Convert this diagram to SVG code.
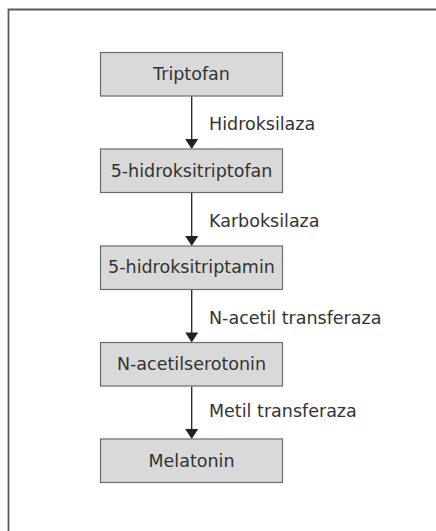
<svg xmlns="http://www.w3.org/2000/svg" width="436" height="531" viewBox="0 0 436 531">
<style>
.box{fill:#d9d9d9;stroke:#6b6b6b;stroke-width:1.2}
.t{font-family:"DejaVu Sans","Liberation Sans",sans-serif;font-size:17.5px;fill:#333}
.c{text-anchor:middle}
.ln{stroke:#222;stroke-width:1.3;fill:none}
.ah{fill:#222}
</style>
<rect width="436" height="531" fill="#fff"/>
<path d="M8.5,531 V9.5 H436" fill="none" stroke="#5a5a5a" stroke-width="1.8"/>
<g id="connectors">
<line class="ln" x1="191.7" y1="96" x2="191.7" y2="140"/>
<polygon class="ah" points="185.2,139 198.2,139 191.7,149"/>
<line class="ln" x1="191.7" y1="193" x2="191.7" y2="237"/>
<polygon class="ah" points="185.2,236 198.2,236 191.7,246"/>
<line class="ln" x1="191.7" y1="290" x2="191.7" y2="333.5"/>
<polygon class="ah" points="185.2,332.5 198.2,332.5 191.7,342.5"/>
<line class="ln" x1="191.7" y1="386.5" x2="191.7" y2="430"/>
<polygon class="ah" points="185.2,429 198.2,429 191.7,439"/>
<text class="t" x="209" y="130">Hidroksilaza</text>
<text class="t" x="209" y="226.7">Karboksilaza</text>
<text class="t" x="209" y="324">N-acetil transferaza</text>
<text class="t" x="209" y="417.3">Metil transferaza</text>
</g>
<g id="n1"><rect class="box" x="100.5" y="52.5" width="182" height="43.5"/><text class="t c" x="191.5" y="79.5">Triptofan</text></g>
<g id="n2"><rect class="box" x="100.5" y="149" width="182" height="43.5"/><text class="t c" x="191.5" y="176.5">5-hidroksitriptofan</text></g>
<g id="n3"><rect class="box" x="100.5" y="246" width="182" height="43.5"/><text class="t c" x="191.5" y="273">5-hidroksitriptamin</text></g>
<g id="n4"><rect class="box" x="100.5" y="342.5" width="182" height="43.5"/><text class="t c" x="191.5" y="370">N-acetilserotonin</text></g>
<g id="n5"><rect class="box" x="100.5" y="439" width="182" height="43.5"/><text class="t c" x="191.5" y="466.5">Melatonin</text></g>
</svg>
